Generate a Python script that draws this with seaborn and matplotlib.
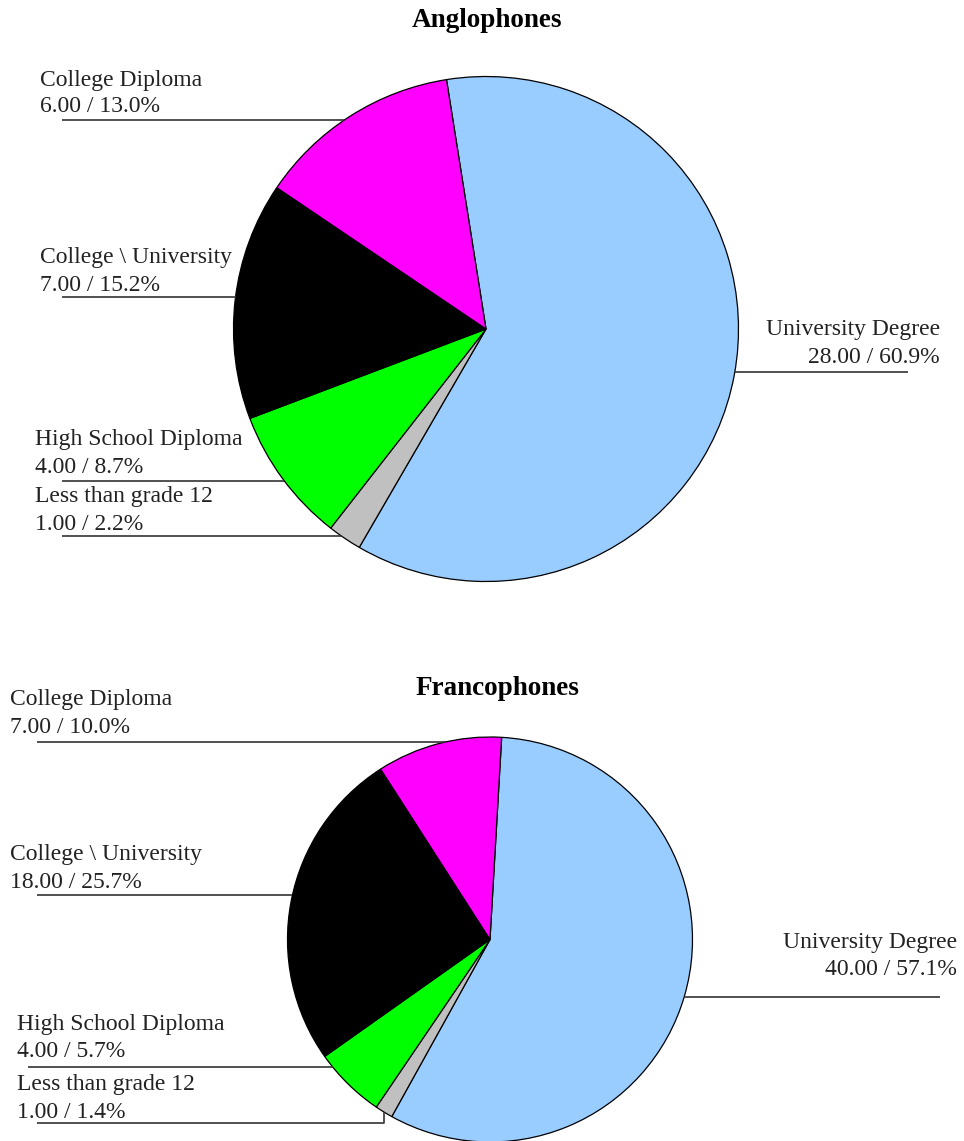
import numpy as np
import matplotlib
matplotlib.use("Agg")
import matplotlib.pyplot as plt
import seaborn as sns

# ---------------- data ----------------
categories = ["University Degree", "Less than grade 12", "High School Diploma",
              "College \\ University", "College Diploma"]
anglo_values = [28.0, 1.0, 4.0, 7.0, 6.0]
franco_values = [40.0, 1.0, 4.0, 18.0, 7.0]
slice_colors = ["#99CCFF", "#C0C0C0", "#00FF00", "#000000", "#FF00FF"]
titles = ["Anglophones", "Francophones"]

# ---------------- layout (pixel coordinates, y downwards) ----------------
W, H = 964, 1141
sns.set_theme(style="white")
plt.rcParams["font.family"] = ["Liberation Serif", "DejaVu Serif"]

fig = plt.figure(figsize=(W / 100, H / 100), dpi=100)
ax = fig.add_axes([0, 0, 1, 1])

charts = [
    dict(values=anglo_values, center=(486, 329), radius=252.5, start=99.0,
         title_xy=(487, 27),
         labels=[  # (side, text_x, baseline1, baseline2, line_y, line_x_outer)
             ("right", 940, 335, 363, 372, 908),
             ("left", 35, 502, 530, 536, 62),
             ("left", 35, 445, 473, 481, 62),
             ("left", 40, 263, 291, 297, 62),
             ("left", 40, 86, 112, 120, 62),
         ]),
    dict(values=franco_values, center=(490, 939.5), radius=202.5, start=86.7,
         title_xy=(497, 695),
         labels=[
             ("right", 957, 948, 975, 997, 940),
             ("left", 17, 1090, 1118, 1123, 37),
             ("left", 17, 1030, 1057, 1067, 28),
             ("left", 10, 860, 888, 895, 37),
             ("left", 10, 705, 733, 742, 37),
         ]),
]

TXT = "#222222"
LINE = "#333333"
FS = 17

for title, ch in zip(titles, charts):
    vals = ch["values"]
    cx, cy_img = ch["center"]
    cy = H - cy_img
    r = ch["radius"]
    wedges, _ = ax.pie(vals, colors=slice_colors, startangle=ch["start"],
                       counterclock=False, center=(cx, cy), radius=r,
                       wedgeprops=dict(edgecolor="black", linewidth=0.9))
    total = sum(vals)
    tx, ty = ch["title_xy"]
    ax.text(tx, H - ty, title, ha="center", va="baseline", fontsize=19.5,
            fontweight="bold", color="black")
    for cat, v, w, lab in zip(categories, vals, wedges, ch["labels"]):
        side, x_t, b1, b2, ly, lx = lab
        pct = 100.0 * v / total
        ha = "right" if side == "right" else "left"
        ax.text(x_t, H - b1, cat, ha=ha, va="baseline", fontsize=FS, color=TXT)
        ax.text(x_t, H - b2, f"{v:.2f} / {pct:.1f}%", ha=ha, va="baseline",
                fontsize=FS, color=TXT)
        # leader line
        t1, t2 = w.theta1, w.theta2
        mid = np.deg2rad((t1 + t2) / 2)
        axp, ayp = cx + r * np.cos(mid), cy + r * np.sin(mid)
        Y = H - ly
        dy = Y - cy
        ok = False
        if abs(dy) < r:
            dx = np.sqrt(r * r - dy * dy)
            xi = cx + dx if side == "right" else cx - dx
            a = np.degrees(np.arctan2(dy, xi - cx))
            if (a - t1) % 360 <= (t2 - t1):
                ok = True
        if ok:
            ax.plot([lx, xi], [Y, Y], color=LINE, lw=1.2, solid_capstyle="butt")
        else:
            ax.plot([lx, axp, axp], [Y, Y, ayp], color=LINE, lw=1.2,
                    solid_capstyle="butt")

ax.set_xlim(0, W)
ax.set_ylim(0, H)
ax.set_aspect("auto")
ax.axis("off")
fig.savefig("out.png", dpi=100, facecolor="white")
